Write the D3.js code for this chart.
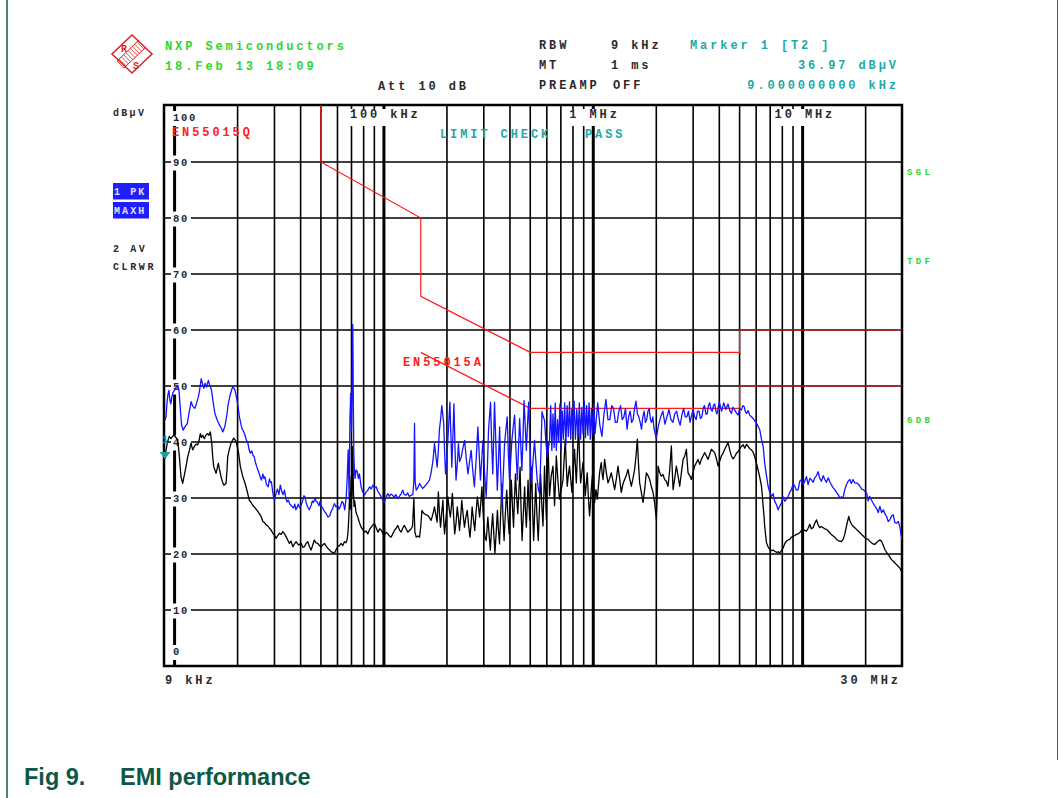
<!DOCTYPE html>
<html>
<head>
<meta charset="utf-8">
<script src="https://cdn.jsdelivr.net/npm/d3@7/dist/d3.min.js"></script>
<style>
  body { margin: 0; background: #fff; }
  svg text { font-family: "Liberation Mono", "DejaVu Sans Mono", monospace; font-weight: bold; }
</style>
</head>
<body>
<div id="chart"></div>
<script>
var width = 1061,
    height = 798;

// frequency in kHz, level in dBuV
var peakTrace = [
  [9,43.9],[9.1,44.5],[9.2,47],[9.3,48.5],[9.4,49.2],[9.5,47.5],[9.6,46.8],[9.7,48],[9.8,48.7],[10,49.3],[10.2,49.8],[10.35,50.1],[10.5,49.2],[10.65,46],[10.8,43],[11,42.1],[11.2,42.7],[11.5,43.3],[11.7,45],[12,47.2],[12.2,46.4],[12.5,46],[12.7,46.8],[13,48.1],[13.2,49.5],[13.4,51.3],[13.6,50.4],[13.8,49.6],[14,50.5],[14.2,49.8],[14.5,51],[14.7,50.2],[15,49.3],[15.3,47],[15.6,45],[16,43.9],[16.3,43.2],[16.7,42.5],[17,41.8],[17.4,42.8],[17.8,45],[18,46.6],[18.4,48.3],[18.8,49.5],[19,49.9],[19.4,49.3],[19.7,48.2],[20,46.9],[20.4,44.5],[20.8,43],[21,42.4],[21.4,41.8],[21.7,41.2],[22,40.4],[22.4,39.8],[22.7,38.6],[23,38],[23.4,38.4],[23.7,37.6],[24,37.4],[24.4,36.2],[24.7,35.6],[25,35],[25.4,34.3],[25.7,33.6],[26,33.2],[26.4,34.3],[26.7,33.5],[27,33.8],[27.4,32.6],[27.7,32.2],[28,32],[28.4,33.4],[28.7,32.8],[29,32.9],[29.4,31.2],[29.7,30.1],[30,29.6],[30.5,30.8],[31,31.6],[31.5,30.6],[32,32.3],[32.5,31.2],[33,30.6],[33.5,31.4],[34,29.9],[34.5,29.3],[35,29.6],[35.5,28.9],[36,28.7],[37,28.2],[37.5,28.9],[38,27.9],[39,28.9],[39.5,28.3],[40,28.5],[41,29.6],[41.5,30.4],[42,30.2],[42.5,29.2],[43,28.6],[43.5,28.2],[44,27.9],[45,28.8],[45.5,29.5],[46,29.2],[47,30],[47.5,29.3],[48,29.3],[49,28.6],[49.5,29.4],[50,28.7],[51,28.2],[52,27.6],[53,27.2],[54,26.6],[55,26.8],[56,27.6],[57,28.2],[58,29],[59,28.4],[60,28.7],[61,28],[62,28.5],[63,29.4],[64,29.1],[65,27.9],[66,30],[66.7,33.2],[67.5,38.6],[68.2,30],[68.8,44],[69.4,48.7],[70,42],[70.6,52],[71,61],[71.4,48],[71.8,38],[72.3,35],[72.8,33.5],[73.6,35],[74.5,34.8],[75.5,33.5],[76.4,34.3],[77.8,32],[79,31.2],[80.7,30.5],[82,31],[83.8,31.4],[85.5,32],[87,31.6],[88.6,32.3],[90,31.8],[91.8,32],[93.5,31.2],[95.2,30.8],[97,30.2],[99,29.6],[100.5,29.3],[102.5,30.2],[104.4,30.8],[106,30.3],[108,30.7],[110,30.5],[112,30.1],[114,30.6],[116.5,29.9],[119,30.4],[121,30.8],[123,31.4],[125,30.6],[127.7,30.5],[130,30.9],[132,30.3],[135,30.5],[137.5,30.6],[139,33],[140,43.3],[141,33],[142.6,31.4],[145,31.8],[148,32.6],[150,32.2],[153,31.7],[156,32],[159,32.4],[162,32.8],[165,33.2],[168,34.5],[171.5,36.7],[174.4,39.7],[177,37.5],[179.6,35.5],[182,38.5],[184,42.1],[186.5,44],[189,46.5],[191,45],[193,43.3],[195,38],[197,34.3],[199.5,37],[202,40.3],[204.5,44],[206.6,47.1],[209,41],[211,35.5],[213.5,41],[216,46.8],[218.5,39],[221,33.2],[224,36],[227,39.7],[230,36.5],[234,37.3],[238.5,39],[243,40.3],[247.5,37],[252,34.3],[256.5,36.5],[261,38.5],[265.5,35],[270.5,32],[276,37],[281,42.7],[285,38],[289,33.2],[293,36.5],[297,40.3],[302,35],[308,30.2],[312,35.5],[316,42.1],[320,45],[323,47.1],[327,40],[331,34.3],[334,40],[337.5,47.1],[343,39],[348,31.4],[352,36],[357,42.7],[361,35],[366,28.4],[371,33.5],[377,39.7],[382,42],[388,44.5],[393,38],[398,33.2],[403,36.5],[408.5,40.3],[414,42.5],[421,44.8],[428,38],[434,33.2],[439,38.5],[445,44.2],[450,40],[456,34.9],[461,40],[467,47.4],[473,43],[479,38.5],[485,43],[491,47.1],[498,40],[506,32.6],[514,36],[524,40.3],[532,36.5],[540,33.2],[547,31.5],[554,30.8],[562,38],[569,45.4],[577,44.5],[585,43.9],[594,40],[603,37.3],[611,39],[618,40.3],
  [626,46.5],[634,38.5],[642,45],[650,39],[658,47],[666,38.5],[675,44],[684,40],[693,46.8],[702,38.5],[711,45.5],[720,40.5],[730,47],[740,39.5],[750,46.5],[760,41],[770,47.2],[780,40.5],[790,46],[800,41.5],[810,47.3],[822,40.5],[834,45.8],[846,41],[858,47],[870,40.5],[882,46.2],[894,41.5],[906,47.3],[918,40.8],[930,46.5],[942,41.2],[955,47],[968,40.5],[980,46],[992,41.5],[1005,46.8],
  [1020,41.5],[1050,47],[1075,43],[1100,41],[1125,45],[1150,47.6],[1175,44],[1200,44],[1225,46.5],[1250,46],[1275,43.5],[1300,43.5],[1325,45.5],[1350,46.5],[1375,44],[1400,44.5],[1425,46],[1450,42.3],[1475,44.5],[1500,45.5],[1525,43.5],[1550,44],[1575,46],[1600,47.3],[1625,45],[1650,44.5],[1675,43.5],[1700,42.3],[1725,44.5],[1750,45.5],[1775,43.5],[1800,44],[1825,45.5],[1850,46],[1875,44],[1900,43.5],[1925,44.5],[1950,42.5],[1975,41.5],[2000,40.7],[2050,43],[2100,44.5],[2150,45.5],[2200,43.2],[2250,44.5],[2300,45.8],[2350,44],[2400,43.5],[2450,45],[2500,45.5],[2550,44],[2600,43],[2650,44.8],[2700,46],[2750,44.5],[2800,44.5],[2850,45.5],[2900,43.5],[2950,44.8],[3000,45.8],[3050,44.5],[3100,44],[3150,45.5],[3200,45.5],[3250,44.2],[3300,44.5],[3350,46],[3400,46.5],[3450,45],[3500,45],[3550,46.5],[3600,47],[3650,45.8],[3700,45.5],[3750,46.5],[3800,46.8],[3850,45.5],[3900,45],[3950,46.2],[4000,47.2],[4100,45.5],[4200,47],[4300,45.8],[4400,46.8],[4500,45.5],[4570,45.1],[4650,46.2],[4740,45.7],[4830,45.2],[4920,44.8],[5010,46],[5100,45.7],[5180,46.5],[5260,46.3],[5330,45.4],[5390,45.1],[5490,45.6],[5590,44.8],[5690,44.5],[5800,44.2],[5900,43.8],[6010,43.4],[6130,42.8],[6240,42.2],[6360,40.5],[6480,39.2],[6590,36.2],[6720,34],[6840,32.1],[6960,31],[7100,30.3],[7230,30.8],[7360,29.4],[7500,28.8],[7640,27.9],[7780,28.6],[7920,29.1],[8070,30.2],[8210,29.4],[8370,29.8],[8530,30.3],[8680,31],[8840,31.5],[9010,32.6],[9170,32.1],[9340,31.4],[9520,31.5],[9690,33],[9880,33.3],[10060,32.4],[10240,33],[10430,33.8],[10630,32.4],[10820,33.5],[11000,33.3],[11230,32.8],[11430,33.6],[11650,34],[11860,34.7],[12070,33.5],[12300,33],[12540,34],[12760,33.3],[13000,32.8],[13250,33.6],[13480,32.9],[13700,32.4],[14000,31.8],[14240,31.5],[14520,31],[14790,30.6],[15050,30],[15300,30.2],[15600,30],[15900,31.5],[16200,32.4],[16500,33],[16800,33.3],[17100,32.6],[17400,33.3],[17750,32.7],[18100,32.7],[18430,32.5],[18800,32.1],[19110,31.6],[19500,31.5],[19820,31.2],[20200,30.9],[20570,29.5],[20900,30.3],[21330,29.6],[21700,29.1],[22130,28.6],[22500,28.2],[22970,27.4],[23400,28.5],[23820,27.4],[24300,27.9],[24700,27.2],[25200,26.7],[25640,25.8],[26100,26.1],[26590,26.8],[27100,27],[27580,25.6],[28100,25.5],[28630,25.8],[29100,25],[29500,23.5],[29800,22.6],[30000,23]
];

var avgTrace = [
  [9,37],[9.1,38.5],[9.25,40],[9.43,41],[9.6,40.6],[9.79,41],[9.97,41.2],[10.15,40.8],[10.35,40.4],[10.54,37.4],[10.73,33.8],[10.93,32.6],[11.13,34.1],[11.34,35.6],[11.56,37.4],[11.77,38.5],[11.98,39.8],[12.2,38.6],[12.43,39.2],[12.65,39.6],[12.9,39.5],[13.1,40.3],[13.27,41.5],[13.45,40.8],[13.62,41.2],[13.87,40.6],[14.1,41.2],[14.4,41.5],[14.6,41.2],[14.82,41.8],[15.05,39.8],[15.2,37.5],[15.38,35.6],[15.58,35],[15.78,34.4],[16.18,36.2],[16.4,35],[16.67,33.8],[16.9,33],[17.17,32.3],[17.61,32.6],[17.8,35],[17.94,37.4],[18.3,38.8],[18.61,39.8],[18.9,40.3],[19.17,40.7],[19.67,40.1],[20.17,38.3],[20.62,35.6],[21.17,33.8],[21.55,33],[21.95,32],[22.35,30.8],[22.76,29.6],[23.2,29.2],[23.63,28.7],[24.3,28.2],[24.97,27.6],[25.9,26.7],[26.4,25.8],[26.9,25.6],[27.35,25.2],[27.9,25],[28.37,24.6],[28.9,24.3],[29.45,23.7],[30,23.4],[30.54,22.8],[31.1,23.3],[31.67,23.7],[32.3,23.5],[32.88,24],[33.5,23.6],[34.1,23.1],[34.7,22.5],[35.36,21.9],[36,22.3],[36.7,21.3],[37.4,21.8],[38.06,22.2],[39.1,21.6],[40.2,21.9],[41,21.2],[41.7,21.3],[42.5,21.9],[43.3,22.2],[44.1,21.3],[44.9,20.7],[45.7,21.6],[46.5,22.5],[47.4,22],[48.3,21.9],[49.2,21.5],[50.1,21.3],[51,21.6],[52,21.9],[53,21.4],[54,21],[55,20.7],[55.95,20.4],[57,20.3],[58,20.1],[59.1,20.8],[60.2,21.3],[61.3,21.5],[62.5,21.9],[63.6,21.5],[64.8,22.2],[65.8,22],[66.7,22.5],[67.4,24],[68,26.7],[68.6,31],[69.2,28],[69.7,33.8],[70.3,30],[71,39.2],[71.5,31],[72,28.5],[72.5,29.5],[73.5,27.5],[75,26.6],[76.4,25.6],[77.8,24.8],[79.2,24.4],[80.7,23.9],[82.2,24.1],[83.8,23.6],[85.4,24.4],[87,24.8],[88.6,25.2],[90.2,25.4],[92,24.6],[93.7,23.9],[95.5,24.5],[97.3,24.2],[98.9,23.6],[100.5,23.3],[102.5,23.9],[104.4,23.6],[106.3,23.2],[108.2,23],[110.2,23.6],[112.3,24.2],[114.4,24.6],[116.5,25.1],[118.6,24.3],[120.8,23.9],[123,24.6],[125.3,25.1],[127.6,24.5],[130,23.9],[132.5,24.2],[135,24.5],[137,25],[139,29.9],[140.5,24],[142.6,23],[145.3,23.2],[148,23],[150,25],[151.9,27.8],[154,27.4],[156,27.2],[159,27],[162,26.9],[165,26.5],[168,26],[171,27],[174.4,28.4],[177,27],[179.6,25.7],[182,31.1],[184,27.5],[186.4,24.8],[189,27.5],[191.4,29.6],[193,26],[194.8,23.6],[198,26.5],[202,30.2],[205,28],[207.7,26.6],[210,28.5],[212.3,30.8],[215,27],[217.8,23.6],[221,25.5],[224,28.4],[227,26.5],[229.6,24.2],[232.5,26.5],[235.4,29.6],[239,27],[242.5,24.8],[246,26.5],[250,27.8],[254,25],[257.7,23],[261,25.5],[263.8,28.4],[268,26],[271.5,24.2],[275.5,27.5],[279.5,30.2],[283,28.5],[286.6,26.6],[290,29],[293.9,32],[297,28],[300.5,24.8],[304,23],[308,22.4],[311,24.5],[313.6,26.6],[318,23.5],[322.4,20.7],[326,24],[330.6,27.2],[335,23.5],[339,20.1],[344,24],[348.4,27.8],[352,24.5],[356.6,21.8],[361,27],[366.3,32.6],[370,27],[375,22.4],[380,27],[386,31.4],[391,27],[396.5,23.6],[401,28],[406,33.2],[411,28.5],[416,24.8],[420,29.5],[425,34.3],[430,30.5],[436,27.2],[441,31],[447,35.5],[452,28],[457,22.4],[463,27],[470,32],[474,28],[479,24.8],[484,29],[488,33.2],[492,29.5],[497,26],[502,31],[508,35.5],[513,28],[519,22.4],[525,27.5],[531,32.6],[538,27],[546,22.4],[553,28],[560,34.3],[564,31.5],[569,28],[575,25],[580,30],[585,35.7],[591,31],[597,26.2],[602,33],[608,39.9],[613,35],[618,30.4],[630,34],[642,35.7],[648,32],[653,28.6],[660,33],[666,37.5],[678,33],[690,29.8],[703,31.5],[717,33.3],[726,37],[735,40.5],[743,36],[751,32.1],[760,34],[770,35.7],[780,33.5],[791,31],[802,35],[814,38.7],[822,35.5],[830,32.7],[840,38],[851,43.5],[860,37],[870,32.7],[882,34.5],[893,36.3],[905,33.5],[916,30.4],[926,32.5],[936,34.5],[948,30],[960,26.8],[969,29],[978,31.5],[988,33.5],[997,35.1],[1006,32],[1015,29.2],[1030,31.5],[1045,29.8],[1058,32],[1072,34.5],[1082,35.5],[1092,36.3],[1102,34.5],[1113,33.3],[1123,35],[1133,36.9],[1155,34.5],[1176,32.7],[1198,33.5],[1220,34.5],[1242,33],[1265,31.5],[1290,33.5],[1312,35.7],[1336,33.5],[1361,31],[1386,32.5],[1411,33.3],[1438,34],[1465,35.1],[1492,33.5],[1519,32.1],[1548,33.5],[1576,35.1],[1600,37.5],[1624,40.5],[1645,36],[1666,32.7],[1697,31],[1728,29.2],[1760,31.5],[1793,34.5],[1826,34],[1859,33.3],[1895,32],[1930,31],[1966,29],[2002,26.2],[2020,30],[2040,35.7],[2077,34.5],[2114,33.9],[2153,34.2],[2192,33.3],[2234,33],[2276,32.1],[2318,35],[2361,39.3],[2384,35],[2406,31.5],[2450,33.5],[2494,35.7],[2540,34],[2587,32.1],[2636,34.5],[2686,36.9],[2735,37.5],[2785,38.7],[2810,36.5],[2836,34.5],[2890,34],[2941,33.3],[2995,34.5],[3050,35.7],[3108,36.3],[3166,36.9],[3225,36],[3283,36.9],[3344,37.5],[3405,38.1],[3470,37.5],[3535,36.9],[3600,37.8],[3666,38.7],[3734,38.4],[3802,38.1],[3875,37],[3947,35.7],[4020,36.6],[4093,37.5],[4170,38],[4244,38.7],[4325,39.3],[4406,39.9],[4490,38.5],[4570,37.5],[4655,37],[4740,37.4],[4830,38],[4920,38.3],[5010,38.8],[5100,39.2],[5200,39.5],[5290,38.9],[5390,39.6],[5490,39.2],[5590,38.8],[5690,38.6],[5800,38.2],[5900,37.4],[6010,36.3],[6130,35],[6250,33.6],[6360,32.1],[6420,30.5],[6480,28.5],[6540,26.8],[6590,25],[6650,23.5],[6720,22],[6840,21.3],[6960,20.8],[7100,20.6],[7230,20.7],[7360,20.5],[7500,20.3],[7640,20.4],[7780,20.2],[7920,20.6],[8070,21.1],[8210,21.8],[8370,22.3],[8530,22.5],[8680,22.6],[8840,23],[9010,23.2],[9170,23.3],[9340,23.5],[9520,23.6],[9690,23.8],[9880,24.2],[10060,24.4],[10240,24.2],[10430,24.1],[10630,24.6],[10820,25.3],[11000,24.5],[11230,24.7],[11430,25.5],[11650,26.1],[11860,25.2],[12070,24.7],[12300,24.9],[12540,24.7],[12760,24.5],[13000,24.4],[13250,24.1],[13480,23.8],[13700,23.5],[14000,23.2],[14240,23],[14520,22.6],[14790,22.4],[15050,22.3],[15300,22.2],[15600,22.6],[15900,23.5],[16200,25],[16610,26.7],[16800,26],[17120,25.3],[17400,25],[17750,24.7],[18100,24.4],[18430,24.1],[18800,23.8],[19110,23.5],[19500,23.2],[19820,22.9],[20200,22.7],[20570,22.6],[20900,22.3],[21330,22],[21700,21.8],[22130,21.7],[22500,22],[22970,22.3],[23400,22.5],[23820,22.3],[24300,21.5],[24700,20.8],[25200,20.3],[25640,19.9],[26100,19.5],[26590,19],[27100,18.7],[27580,18.4],[28100,18.1],[28630,17.8],[29100,17.5],[29700,16.9],[30000,17.2]
];

// EN55015 limit lines (kHz, dBuV)
var qpLimit = [[9,110],[50,110],[50,90],[150,80],[150,66],[500,56],[5000,56],[5000,60],[30000,60]];
var avLimit = [[150,56],[500,46],[5000,46],[5000,50],[30000,50]];

var levelTicks = [0,10,20,30,40,50,60,70,80,90,100];
var freqLabels = [[100,'100 kHz'],[1000,'1 MHz'],[10000,'10 MHz']];
var settingRows = [['RBW','9 kHz'],['MT','1 ms'],['PREAMP','OFF']];
var markerRows = ['Marker 1 [T2 ]','36.97 dBµV','9.000000000 kHz'];
var markerPoint = [9, 36.97];
var sideFlags = [['SGL',175],['TDF',264],['6DB',423]];

var plotLeft = 164, plotRight = 902, plotTop = 105, plotBottom = 666;
var FS = 12, LS = 2.9;   // analyzer screen font

var svg = d3.select('#chart').append('svg')
  .attr('width', width)
  .attr('height', height);

var x = d3.scaleLog().domain([9, 30000]).range([165, 902.5]);
var y = d3.scaleLinear().domain([0, 100]).range([666, 106]);

function screenText(g, px, py, s, color, size, spacing) {
  return g.append('text').attr('x', px).attr('y', py)
    .attr('font-size', size || FS)
    .attr('letter-spacing', spacing === undefined ? LS : spacing)
    .attr('fill', color)
    .text(s);
}

// figure border
svg.append('line').attr('x1', 7).attr('x2', 7).attr('y1', 0).attr('y2', 798)
  .attr('stroke', '#0c5a46').attr('stroke-width', 1.5);
svg.append('line').attr('x1', 1057.5).attr('x2', 1057.5).attr('y1', 0).attr('y2', 760)
  .attr('stroke', '#555').attr('stroke-width', 1);

// grid
var grid = svg.append('g');
grid.selectAll('line.v')
  .data(x.ticks().filter(function(d){ return d > 9 && d < 30000; }))
  .enter().append('line')
  .attr('class', 'v')
  .attr('x1', function(d){ return x(d); })
  .attr('x2', function(d){ return x(d); })
  .attr('y1', plotTop).attr('y2', plotBottom)
  .attr('stroke', '#000')
  .attr('stroke-width', function(d){
    var m = d / Math.pow(10, Math.floor(Math.log10(d) + 1e-9));
    return Math.abs(m - 1) < 1e-6 ? 3 : 1.6;
  });

grid.selectAll('line.h')
  .data(levelTicks.filter(function(d){ return d > 0 && d < 100; }))
  .enter().append('line')
  .attr('class', 'h')
  .attr('x1', plotLeft).attr('x2', plotRight)
  .attr('y1', function(d){ return y(d); })
  .attr('y2', function(d){ return y(d); })
  .attr('stroke', '#000').attr('stroke-width', 1.6);

// level labels on white
var lab = svg.append('g');
levelTicks.forEach(function(v){
  var by = v === 100 ? 121 : (v === 0 ? 655 : y(v) + 3.5);
  lab.append('rect')
    .attr('x', 171).attr('y', by - 10)
    .attr('width', v === 100 ? 28 : 20).attr('height', 15)
    .attr('fill', '#fff');
  screenText(lab, 173, by, v, '#2a2a2a', 10.5, 1.7);
});

// frequency labels on white
var flab = svg.append('g');
var labelShift = { 100: 34, 1000: 24, 10000: 28 };
freqLabels.forEach(function(d){
  var t = screenText(flab, x(d[0]) - labelShift[d[0]], 118, d[1], '#2a2a2a');
  var bb = t.node().getBBox();
  flab.insert('rect', function(){ return t.node(); })
    .attr('x', bb.x - 2).attr('y', 109)
    .attr('width', bb.width + 1).attr('height', 17)
    .attr('fill', '#fff');
});

// frame
svg.append('rect')
  .attr('x', plotLeft).attr('y', plotTop)
  .attr('width', plotRight - plotLeft).attr('height', plotBottom - plotTop)
  .attr('fill', 'none').attr('stroke', '#000').attr('stroke-width', 2.5);

svg.append('clipPath').attr('id', 'plot-clip')
  .append('rect').attr('x', plotLeft).attr('y', plotTop)
  .attr('width', plotRight - plotLeft).attr('height', plotBottom - plotTop);

var plot = svg.append('g').attr('clip-path', 'url(#plot-clip)');

var line = d3.line()
  .x(function(d){ return x(d[0]); })
  .y(function(d){ return y(d[1]); });

plot.append('path').datum(qpLimit).attr('d', line)
  .attr('fill', 'none').attr('stroke', '#ff1a1a').attr('stroke-width', 1.2);
plot.append('path').datum(avLimit).attr('d', line)
  .attr('fill', 'none').attr('stroke', '#ff1a1a').attr('stroke-width', 1.2);

plot.append('path').datum(avgTrace).attr('d', line)
  .attr('fill', 'none').attr('stroke', '#000').attr('stroke-width', 1.3)
  .attr('stroke-linejoin', 'round');
plot.append('path').datum(peakTrace).attr('d', line)
  .attr('fill', 'none').attr('stroke', '#1414ff').attr('stroke-width', 1.3)
  .attr('stroke-linejoin', 'round');

// limit names
screenText(svg, 172, 136, 'EN55015Q', '#ff2020');
screenText(svg, 403, 366, 'EN55015A', '#ff2020');

// limit check status
screenText(svg, 440, 138, 'LIMIT CHECK', '#22a8a8');
screenText(svg, 585, 138, 'PASS', '#22a8a8');

// marker
var mx = x(markerPoint[0]), my = y(markerPoint[1]);
svg.append('path')
  .attr('d', 'M' + (mx - 5.5) + ',' + (my - 7) + 'L' + (mx + 5.5) + ',' + (my - 7) + 'L' + mx + ',' + my + 'Z')
  .attr('fill', '#1a9f9f');
screenText(svg, mx - 3, my - 16, '1', '#1a9f9f', 10.5, 0);

// header
var header = svg.append('g');
screenText(header, 165, 50, 'NXP Semiconductors', '#2bd82b');
screenText(header, 165, 70, '18.Feb 13 18:09', '#2bd82b');
screenText(header, 378, 90, 'Att 10 dB', '#2a2a2a');
settingRows.forEach(function(r, i){
  screenText(header, 539, 49 + i * 20, r[0], '#2a2a2a');
  screenText(header, i === 2 ? 613 : 611, 49 + i * 20, r[1], '#2a2a2a');
});
markerRows.forEach(function(s, i){
  screenText(header, i === 0 ? 690 : 896 + LS, 49 + i * 20, s, '#22a8a8')
    .attr('text-anchor', i === 0 ? 'start' : 'end');
});

// R&S logo
var logo = svg.append('g').attr('stroke', '#d92626').attr('fill', 'none');
logo.append('path').attr('d', 'M132,35L152,54L132,73L112,54Z').attr('stroke-width', 1.6);
logo.append('path').attr('d', 'M117,61L139,40M124,68L146,47').attr('stroke-width', 1);
d3.range(0, 10).forEach(function(i){
  var cx = 120.5 + i * 2.2, cy = 64.5 - i * 2.1;
  logo.append('line')
    .attr('x1', cx - 3.5).attr('y1', cy - 3.5)
    .attr('x2', cx + 3.5).attr('y2', cy + 3.5)
    .attr('stroke-width', 0.8);
});
svg.append('text').attr('x', 121).attr('y', 52)
  .attr('font-size', 10).attr('font-weight', 'normal').attr('fill', '#d92626').text('R');
svg.append('text').attr('x', 133).attr('y', 69)
  .attr('font-size', 10).attr('font-weight', 'normal').attr('fill', '#d92626').text('S');

// left side trace info
screenText(svg, 113, 116, 'dBµV', '#2a2a2a', 10, 2.3);
[['1 PK', 183], ['MAXH', 202]].forEach(function(b){
  svg.append('rect').attr('x', 113).attr('y', b[1])
    .attr('width', 36).attr('height', 16.5).attr('fill', '#1e1eff');
  screenText(svg, 114, b[1] + 12, b[0], '#e0e0f0', 10, 2.1);
});
screenText(svg, 113, 252, '2 AV', '#2a2a2a', 10, 2.6);
screenText(svg, 113, 270, 'CLRWR', '#2a2a2a', 10, 2.6);

// right side flags
sideFlags.forEach(function(f){
  screenText(svg, 907, f[1], f[0], '#2bd82b', 9, 3.3);
});

// sweep limits
screenText(svg, 165, 684, '9 kHz', '#2a2a2a');
screenText(svg, 898 + LS, 684, '30 MHz', '#2a2a2a').attr('text-anchor', 'end');

// caption
svg.append('text').attr('x', 24).attr('y', 785)
  .style('font-family', '"Liberation Sans", Arial, sans-serif')
  .attr('font-size', 23.5).attr('fill', '#0c5a46').text('Fig 9.');
svg.append('text').attr('x', 120).attr('y', 785)
  .style('font-family', '"Liberation Sans", Arial, sans-serif')
  .attr('font-size', 23.5).attr('fill', '#0c5a46').text('EMI performance');
</script>
</body>
</html>
